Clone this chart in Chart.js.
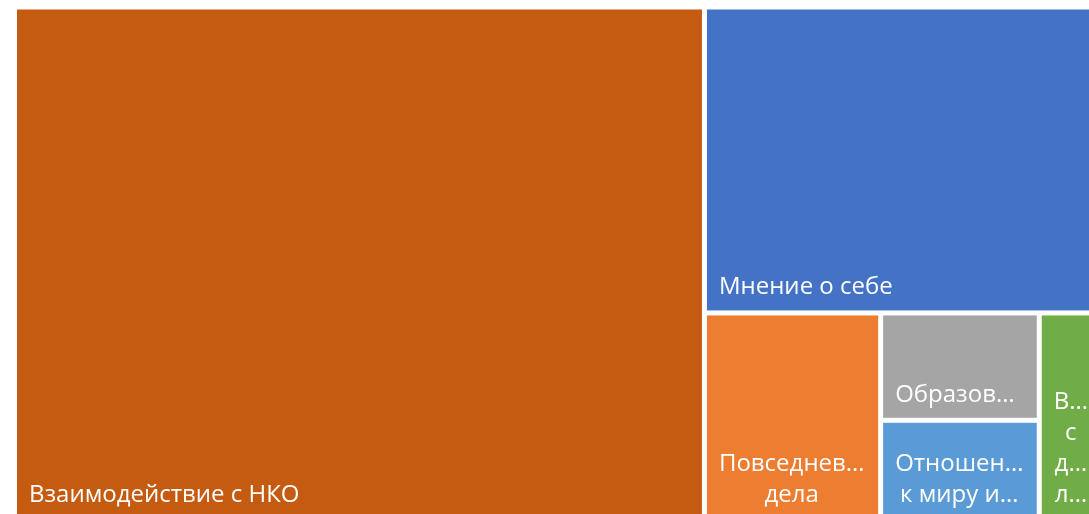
<!DOCTYPE html>
<html>
<head>
<meta charset="utf-8">
<script src="https://cdn.jsdelivr.net/npm/chart.js@4"></script>
<style>
  html, body { margin: 0; padding: 0; background: #fff; overflow: hidden; }
  .chartBox { width: 1110px; height: 530px; }
</style>
</head>
<body>
<div class="chartBox"><canvas id="treemapChartCanvas"></canvas></div>
<script>
const treemapChartCanvas = document.getElementById("treemapChartCanvas");

// categories, biggest first
const categories = ['Взаимодействие с НКО', 'Мнение о себе', 'Повседневные дела', 'Образование', 'Отношение к миру и людям', 'Взаимодействие с другими людьми'];
// what fits inside each cell
const labelLines = [['Взаимодействие с НКО'], ['Мнение о себе'], ['Повседнев…', 'дела'], ['Образов…'], ['Отношен…', 'к миру и…'], ['В…', 'с', 'д…', 'л…']];
const values = [291, 99, 30, 14, 13, 10];
const colors = ['#C55A11', '#4472C4', '#ED7D31', '#A5A5A5', '#5B9BD5', '#70AD47'];

function worst(row, side) {
    const s = row.reduce((a, b) => a + b, 0);
    const mx = Math.max(...row);
    const mn = Math.min(...row);
    return Math.max(side * side * mx / (s * s), (s * s) / (side * side * mn));
}

// squarified layout, returns one rect per value
function squarify(vals, rect) {
    const total = vals.reduce((a, b) => a + b, 0);
    const areas = vals.map(v => v * rect.w * rect.h / total);
    const out = [];
    let r = { ...rect };
    let i = 0;
    while (i < areas.length) {
        const side = Math.min(r.w, r.h);
        let row = [areas[i]];
        let j = i + 1;
        while (j < areas.length && worst(row.concat(areas[j]), side) <= worst(row, side)) {
            row.push(areas[j]);
            j++;
        }
        const thick = row.reduce((a, b) => a + b, 0) / side;
        let off = 0;
        if (r.w >= r.h) {
            row.forEach(a => {
                const hh = a / thick;
                out.push({ x: r.x, y: r.y + off, w: thick, h: hh });
                off += hh;
            });
            r = { x: r.x + thick, y: r.y, w: r.w - thick, h: r.h };
        } else {
            row.forEach(a => {
                const ww = a / thick;
                out.push({ x: r.x + off, y: r.y, w: ww, h: thick });
                off += ww;
            });
            r = { x: r.x, y: r.y + thick, w: r.w, h: r.h - thick };
        }
        i = j;
    }
    return out;
}

const treemapCells = {
    id: 'treemapCells',
    beforeDatasetsDraw(chart) {
        const { ctx, chartArea, scales } = chart;
        const W = chartArea.width;
        const H = chartArea.height;
        const cells = squarify(values, { x: 0, y: 0, w: W, h: H });
        const gap = 2.5;

        ctx.save();
        ctx.font = '24px "Open Sans"';
        ctx.textAlign = 'center';
        ctx.textBaseline = 'alphabetic';

        cells.forEach((c, i) => {
            const left = scales.x.getPixelForValue(c.x / W) + gap;
            const right = scales.x.getPixelForValue((c.x + c.w) / W) - gap;
            const top = scales.y.getPixelForValue(c.y / H) + gap;
            const bottom = scales.y.getPixelForValue((c.y + c.h) / H) - gap;

            ctx.fillStyle = colors[i];
            ctx.fillRect(left, top, right - left, bottom - top);

            const lines = labelLines[i];
            const blockW = Math.max(...lines.map(l => ctx.measureText(l).width));
            const cx = left + 12 + blockW / 2;
            ctx.fillStyle = '#FFF';
            lines.forEach((l, k) => {
                ctx.fillText(l, cx, bottom - 16 - (lines.length - 1 - k) * 31);
            });
        });
        ctx.restore();
    }
};

const treemapChart = new Chart(treemapChartCanvas, {
    type: 'scatter',
    data: {
        labels: categories,
        datasets: [{ label: 'Количество', data: [] }]
    },
    options: {
        responsive: true,
        maintainAspectRatio: false,
        animation: false,
        layout: {
            padding: { left: 14.5, top: 7, right: 12, bottom: 10 }
        },
        plugins: {
            legend: { display: false },
            tooltip: { enabled: false }
        },
        scales: {
            x: { type: 'linear', min: 0, max: 1, display: false },
            y: { type: 'linear', min: 0, max: 1, reverse: true, display: false }
        }
    },
    plugins: [treemapCells]
});
</script>
</body>
</html>
